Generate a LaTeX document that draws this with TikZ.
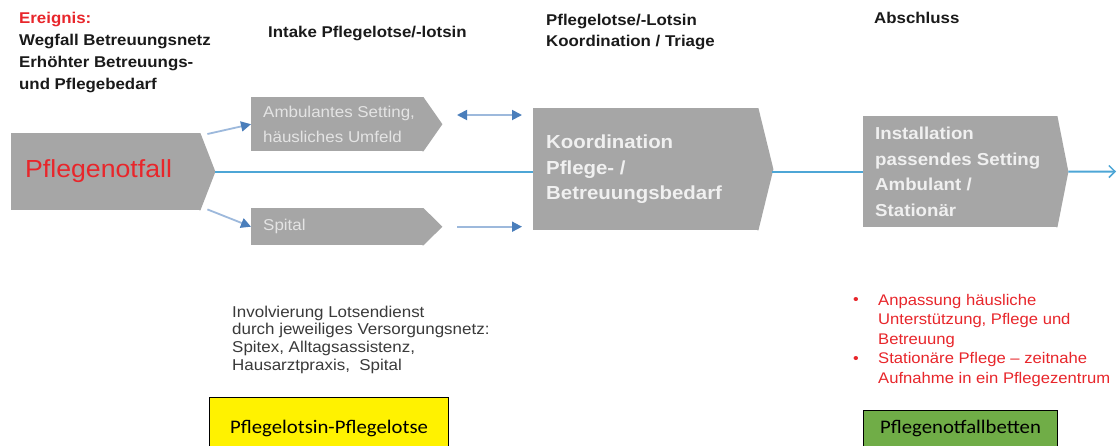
\documentclass[tikz,border=0pt]{standalone}
\usepackage{fontspec}
\setmainfont{Liberation Sans}[FakeStretch=1.08]
\newfontfamily\calib{Carlito}[FakeStretch=1.08]
\usetikzlibrary{arrows.meta,calc}
\definecolor{boxgray}{HTML}{A6A6A6}
\definecolor{boxtxt}{HTML}{E4E4E4}
\definecolor{kootxt}{HTML}{F0F0F0}
\definecolor{evred}{HTML}{E8262B}
\definecolor{mainblue}{HTML}{4DA6D6}
\definecolor{headblue}{HTML}{4A7EBB}
\definecolor{shaftblue}{HTML}{9DB9DC}
\definecolor{hdrblack}{HTML}{1A1A1A}
\definecolor{bodygray}{HTML}{3A3A3A}
\definecolor{okgreen}{HTML}{70AD47}
\newcommand\tipfill[2]{\fill[boxgray] ($(#1.north east)+(-1,0)$) -- (#1.north east) -- ($(#1.east)+(#2,0)$) coordinate (#1tip) -- (#1.south east) -- ($(#1.south east)+(-1,0)$) -- cycle;}
\begin{document}
\begin{tikzpicture}[x=1pt,y=-1pt,
  hdr/.style={anchor=north west, inner sep=0, align=left, text=hdrblack, font=\bfseries\fontsize{15.6}{22}\selectfont},
  gbox/.style={fill=boxgray, draw=none, anchor=north west, inner sep=0},
  btxt/.style={anchor=west, inner sep=0, align=left, text=boxtxt, font=\fontsize{15.7}{25}\selectfont},
  ktxt/.style={anchor=west, inner sep=0, align=left, text=kootxt, font=\bfseries\fontsize{18.9}{25.5}\selectfont},
  itxt/.style={anchor=west, inner sep=0, align=left, text=kootxt, font=\bfseries\fontsize{17.3}{25.7}\selectfont},
  mainline/.style={draw=mainblue, line width=2pt},
  sarrow/.style={draw=shaftblue, line width=1.8pt, -{Triangle[length=10pt,width=10pt,color=headblue]}},
  darrow/.style={draw=shaftblue, line width=1.8pt, {Triangle[length=10pt,width=10pt,color=headblue]}-{Triangle[length=10pt,width=10pt,color=headblue]}},
  body/.style={anchor=north west, inner sep=0, align=left, text=bodygray, font=\fontsize{15.7}{17.7}\selectfont},
  redlist/.style={anchor=north west, inner sep=0, align=left, text=evred, font=\fontsize{15.4}{19.5}\selectfont},
  bul/.style={anchor=base, inner sep=0, text=evred, font=\fontsize{15}{16}\selectfont},
  tag/.style={anchor=north west, draw=black, line width=1pt, inner xsep=0, inner ysep=4pt, text depth=20pt, font=\calib\fontsize{19.2}{22}\selectfont}
]
\useasboundingbox (0,0) rectangle (1118,445);
\fill[white] (0,0) rectangle (1118,445);

% headers
\node[hdr] (ev) at (19,12) {\textcolor{evred}{Ereignis:}\\Wegfall Betreuungsnetz\\Erhöhter Betreuungs-\\und Pflegebedarf};
\node[hdr] (intake) at (268,26) {Intake Pflegelotse/-lotsin};
\node[hdr, font=\bfseries\fontsize{15.6}{21}\selectfont] (plk) at (546,13.6) {Pflegelotse/-Lotsin\\Koordination / Triage};
\node[hdr] (abs) at (874,11.6) {Abschluss};

% boxes
\node[gbox, minimum width=189pt, minimum height=77pt] (pn) at (11,133) {};
\tipfill{pn}{15}
\node[anchor=west, inner sep=0, text=evred, font=\fontsize{24.7}{28}\selectfont] (pnt) at ($(pn.west)+(14,-1)$) {Pflegenotfall};

\node[gbox, minimum width=172pt, minimum height=54pt] (amb) at (251,97) {};
\tipfill{amb}{19}
\node[btxt] (ambt) at ($(amb.west)+(12,0)$) {Ambulantes Setting,\\häusliches Umfeld};

\node[gbox, minimum width=172pt, minimum height=37pt] (spi) at (251,208) {};
\tipfill{spi}{19}
\node[btxt] (spit) at ($(spi.west)+(12,0)$) {Spital};

\node[gbox, minimum width=225pt, minimum height=122pt] (koo) at (533,108) {};
\tipfill{koo}{15}
\node[ktxt] (koot) at ($(koo.west)+(13,0)$) {Koordination\\Pflege- /\\Betreuungsbedarf};

\node[gbox, minimum width=194pt, minimum height=111pt] (ins) at (863,116) {};
\tipfill{ins}{11}
\node[itxt] (inst) at ($(ins.west)+(12,0)$) {Installation\\passendes Setting\\Ambulant /\\Stationär};

% connectors
\draw[mainline] (pntip) -- (pntip -| koo.west);
\draw[mainline] ($(pntip -| kootip)+(-1,0)$) -- (pntip -| ins.west);
\coordinate (endpt) at (1116,171.5);
\draw[mainline, -{Straight Barb[length=6pt,width=12pt,line width=1.5pt]}] (instip) -- (endpt);

\draw[sarrow] ($(pn.north east)+(7,1)$) -- (amb.west);
\draw[sarrow] ($(pn.south east)+(7,-1)$) -- (spi.west);
\coordinate (da1) at (457,115);
\coordinate (da2) at (522,115);
\draw[darrow] (da1) -- (da2);
\draw[sarrow] ($(spitip)+(15,0)$) -- ($(spitip -| koo.west)+(-11,0)$);

% lower texts
\node[body] (inv) at (232,305.7) {Involvierung Lotsendienst\\durch jeweiliges Versorgungsnetz:\\Spitex, Alltagsassistenz,\\Hausarztpraxis,~ Spital};

\node[redlist] (b1) at (878,294) {Anpassung häusliche\\Unterstützung, Pflege und\\Betreuung};
\node[redlist] (b2) at (878,352.5) {Stationäre Pflege – zeitnahe\\Aufnahme in ein Pflegezentrum};
\node[bul] (bu1) at (856,304) {•};
\node[bul] (bu2) at (856,363) {•};

\node[tag, fill=yellow, minimum width=239pt, text height=32pt] (pl) at (209,397) {Pflegelotsin-Pflegelotse};
\node[tag, fill=okgreen, minimum width=194pt, text height=19pt] (pb) at (863,410) {Pflegenotfallbetten};
\end{tikzpicture}
\end{document}
